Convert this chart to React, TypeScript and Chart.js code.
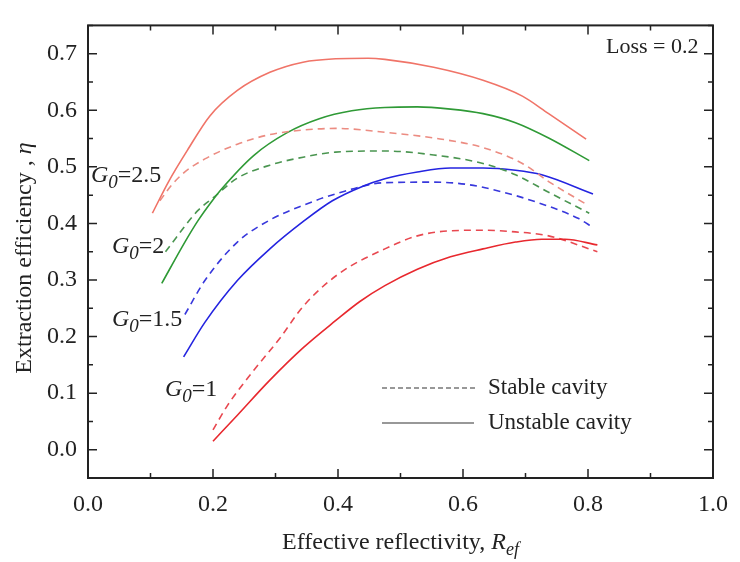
import { useEffect, useRef } from "react";
import { Chart, registerables } from "chart.js";
Chart.register(...registerables);

// ---- data ----
const xTickValues = [0, 0.2, 0.4, 0.6, 0.8, 1.0];
const yTickValues = [0, 0.1, 0.2, 0.3, 0.4, 0.5, 0.6, 0.7];

const g25UnstableX = [0.103, 0.129, 0.16, 0.195, 0.239, 0.291, 0.344, 0.396, 0.448, 0.475, 0.553, 0.632, 0.695, 0.737, 0.797];
const g25UnstableY = [0.418, 0.474, 0.531, 0.59, 0.635, 0.667, 0.685, 0.691, 0.692, 0.69, 0.676, 0.653, 0.625, 0.594, 0.549];
const g25StableX = [0.115, 0.134, 0.155, 0.187, 0.239, 0.291, 0.344, 0.396, 0.475, 0.553, 0.632, 0.695, 0.737, 0.8];
const g25StableY = [0.44, 0.468, 0.491, 0.514, 0.54, 0.557, 0.565, 0.568, 0.561, 0.551, 0.534, 0.506, 0.474, 0.432];

const g2UnstableX = [0.118, 0.155, 0.176, 0.2, 0.213, 0.265, 0.318, 0.37, 0.422, 0.475, 0.527, 0.58, 0.632, 0.684, 0.737, 0.802];
const g2UnstableY = [0.294, 0.367, 0.405, 0.442, 0.46, 0.52, 0.56, 0.585, 0.599, 0.605, 0.606, 0.602, 0.594, 0.578, 0.551, 0.511];
const g2StableX = [0.124, 0.176, 0.2, 0.239, 0.291, 0.344, 0.396, 0.475, 0.553, 0.632, 0.684, 0.737, 0.802];
const g2StableY = [0.35, 0.423, 0.445, 0.48, 0.503, 0.517, 0.526, 0.528, 0.521, 0.506, 0.486, 0.455, 0.418];

const g15UnstableX = [0.153, 0.187, 0.239, 0.291, 0.344, 0.391, 0.438, 0.475, 0.527, 0.58, 0.632, 0.684, 0.726, 0.808];
const g15UnstableY = [0.164, 0.225, 0.299, 0.355, 0.403, 0.44, 0.465, 0.479, 0.491, 0.498, 0.498, 0.494, 0.486, 0.452];
const g15StableX = [0.155, 0.187, 0.239, 0.291, 0.344, 0.396, 0.475, 0.553, 0.606, 0.658, 0.711, 0.784, 0.808];
const g15StableY = [0.239, 0.299, 0.367, 0.406, 0.432, 0.452, 0.472, 0.473, 0.469, 0.457, 0.44, 0.409, 0.393];

const g1UnstableX = [0.2, 0.239, 0.291, 0.344, 0.396, 0.435, 0.475, 0.527, 0.58, 0.632, 0.684, 0.726, 0.763, 0.815];
const g1UnstableY = [0.015, 0.061, 0.123, 0.18, 0.228, 0.262, 0.29, 0.319, 0.341, 0.355, 0.367, 0.372, 0.372, 0.362];
const g1StableX = [0.2, 0.223, 0.265, 0.307, 0.344, 0.4, 0.475, 0.527, 0.58, 0.632, 0.684, 0.737, 0.815];
const g1StableY = [0.035, 0.078, 0.14, 0.197, 0.253, 0.31, 0.355, 0.378, 0.387, 0.388, 0.385, 0.378, 0.35];

const gainLabels = ["2.5", "2", "1.5", "1"];
const legendLabels = ["Stable cavity", "Unstable cavity"];
const lossText = "Loss = 0.2";

const SERIF = '"Liberation Serif", "Times New Roman", serif';
const INK = "#222";

const pts = (xs: number[], ys: number[]) => xs.map((x, i) => ({ x, y: ys[i] }));

type Seg = { t: string; font: string; dy?: number };
function segWidth(ctx: CanvasRenderingContext2D, segs: Seg[]) {
  let w = 0;
  for (const s of segs) { ctx.font = s.font; w += ctx.measureText(s.t).width; }
  return w;
}
function drawSegs(ctx: CanvasRenderingContext2D, segs: Seg[], x: number, y: number) {
  let cx = x;
  for (const s of segs) {
    ctx.font = s.font;
    ctx.fillText(s.t, cx, y + (s.dy || 0));
    cx += ctx.measureText(s.t).width;
  }
}

const decorPlugin = {
  id: "decor",
  afterDraw(chart: any) {
    const ctx: CanvasRenderingContext2D = chart.ctx;
    const { left, right, top, bottom } = chart.chartArea;
    const xs = chart.scales.x;
    const ys = chart.scales.y;
    ctx.save();
    ctx.strokeStyle = INK;
    ctx.fillStyle = INK;
    // frame
    ctx.lineWidth = 2;
    ctx.setLineDash([]);
    ctx.strokeRect(left, top, right - left, bottom - top);
    // ticks inward
    ctx.lineWidth = 1.5;
    ctx.beginPath();
    for (let i = 0; i <= 10; i++) {
      const v = i / 10;
      const px = xs.getPixelForValue(v);
      const len = i % 2 === 0 ? 9 : 5;
      ctx.moveTo(px, bottom); ctx.lineTo(px, bottom - len);
      ctx.moveTo(px, top); ctx.lineTo(px, top + len);
    }
    for (let i = -1; i <= 15; i++) {
      const v = i * 0.05;
      const py = ys.getPixelForValue(v);
      const len = i % 2 === 0 ? 9 : 5;
      ctx.moveTo(left, py); ctx.lineTo(left + len, py);
      ctx.moveTo(right, py); ctx.lineTo(right - len, py);
    }
    ctx.stroke();

    ctx.textBaseline = "alphabetic";
    ctx.textAlign = "left";
    // gain annotations
    const gPos = [[91, 182], [112, 253], [112, 326], [165, 396]];
    gainLabels.forEach((g, i) => {
      drawSegs(ctx, [
        { t: "G", font: `italic 24px ${SERIF}` },
        { t: "0", font: `italic 19px ${SERIF}`, dy: 6 },
        { t: "=" + g, font: `24px ${SERIF}` },
      ], gPos[i][0], gPos[i][1]);
    });
    // loss
    ctx.font = `22px ${SERIF}`;
    ctx.fillText(lossText, 606, 53);

    // legend
    ctx.strokeStyle = "#333";
    ctx.lineWidth = 1.2;
    ctx.setLineDash([5, 3]);
    ctx.beginPath(); ctx.moveTo(382, 388); ctx.lineTo(478, 388); ctx.stroke();
    ctx.setLineDash([]);
    ctx.beginPath(); ctx.moveTo(382, 423); ctx.lineTo(474, 423); ctx.stroke();
    ctx.font = `23px ${SERIF}`;
    ctx.fillText(legendLabels[0], 488, 394);
    ctx.fillText(legendLabels[1], 488, 429);

    // x title
    const xt: Seg[] = [
      { t: "Effective reflectivity, ", font: `24px ${SERIF}` },
      { t: "R", font: `italic 24px ${SERIF}` },
      { t: "ef", font: `italic 18px ${SERIF}`, dy: 6 },
    ];
    const xw = segWidth(ctx, xt);
    drawSegs(ctx, xt, (left + right) / 2 - xw / 2, 549);

    // y title
    const yt: Seg[] = [
      { t: "Extraction efficiency , ", font: `24px ${SERIF}` },
      { t: "\u03b7", font: `italic 24px ${SERIF}` },
    ];
    const yw = segWidth(ctx, yt);
    ctx.translate(31, 258);
    ctx.rotate(-Math.PI / 2);
    drawSegs(ctx, yt, -yw / 2, 0);
    ctx.restore();
  },
};

export default function App() {
  const ref = useRef<HTMLCanvasElement | null>(null);
  useEffect(() => {
    if (!ref.current) return;
    const mk = (label: string, xs: number[], ys: number[], color: string, dashed: boolean) => ({
      label,
      data: pts(xs, ys),
      borderColor: color,
      backgroundColor: color,
      borderWidth: 1.6,
      borderDash: dashed ? [7, 5] : [],
      pointRadius: 0,
      showLine: true,
      fill: false,
      cubicInterpolationMode: "monotone" as const,
    });
    const chart = new Chart(ref.current, {
      type: "scatter",
      data: {
        datasets: [
          mk("G0=2.5 unstable", g25UnstableX, g25UnstableY, "#f07468", false),
          mk("G0=2.5 stable", g25StableX, g25StableY, "#ec8c82", true),
          mk("G0=2 unstable", g2UnstableX, g2UnstableY, "#2f9a36", false),
          mk("G0=2 stable", g2StableX, g2StableY, "#4a9550", true),
          mk("G0=1.5 unstable", g15UnstableX, g15UnstableY, "#2424e0", false),
          mk("G0=1.5 stable", g15StableX, g15StableY, "#3838dc", true),
          mk("G0=1 unstable", g1UnstableX, g1UnstableY, "#e8282e", false),
          mk("G0=1 stable", g1StableX, g1StableY, "#e84850", true),
        ],
      },
      options: {
        responsive: false,
        animation: false,
        layout: { padding: { left: 0, top: 9, right: 16, bottom: 0 } },
        plugins: { legend: { display: false }, tooltip: { enabled: false } },
        scales: {
          x: {
            type: "linear",
            min: 0,
            max: 1,
            grid: { display: false, drawTicks: false },
            border: { display: false },
            afterBuildTicks: (s: any) => { s.ticks = xTickValues.map((v) => ({ value: v })); },
            afterFit: (s: any) => { s.height = 84; },
            ticks: {
              padding: 12,
              color: INK,
              font: { family: SERIF, size: 24 },
              callback: (v: any) => Number(v).toFixed(1),
            },
          },
          y: {
            type: "linear",
            min: -0.05,
            max: 0.75,
            grid: { display: false, drawTicks: false },
            border: { display: false },
            afterBuildTicks: (s: any) => { s.ticks = yTickValues.map((v) => ({ value: v })); },
            afterFit: (s: any) => { s.width = 88; },
            ticks: {
              padding: 11,
              color: INK,
              font: { family: SERIF, size: 24 },
              callback: (v: any) => Number(v).toFixed(1),
            },
          },
        },
      },
      plugins: [decorPlugin],
    });
    return () => chart.destroy();
  }, []);
  return (
    <div style={{ position: "absolute", left: 0, top: 0, width: 740, height: 562, background: "#fff" }}>
      <canvas ref={ref} width={740} height={562} style={{ width: 740, height: 562, display: "block" }} />
    </div>
  );
}
